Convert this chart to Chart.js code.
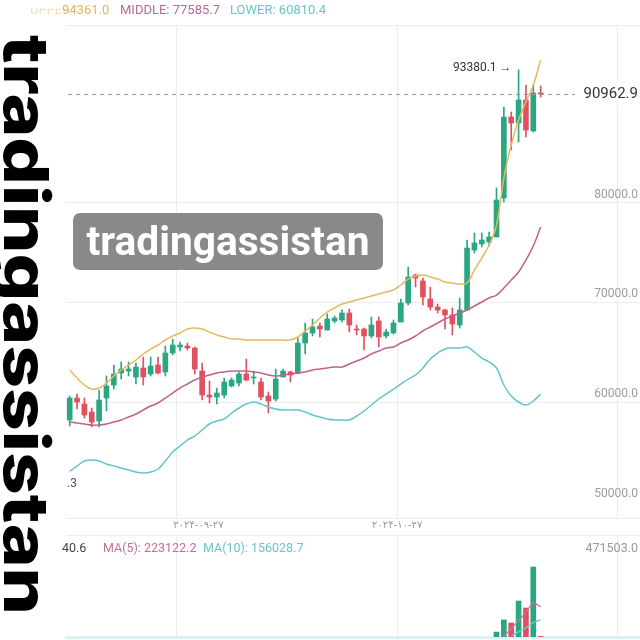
<!DOCTYPE html>
<html>
<head>
<meta charset="utf-8">
<script src="https://cdn.jsdelivr.net/npm/chart.js@4.4.1/dist/chart.umd.min.js"></script>
<style>
html, body { margin: 0; padding: 0; background: #fff; }
#wrap { position: relative; width: 640px; height: 640px; overflow: hidden; background: #fff; font-family: Roboto, sans-serif; }
#main { position: absolute; left: 0; top: 0; }
#vol { position: absolute; left: 0; top: 535px; }
.t { position: absolute; font-size: 13px; line-height: 16px; white-space: nowrap; }
.v { font-size: 12.5px; }
#wm { position: absolute; left: 57px; top: 35px; font: 800 62px Inter, sans-serif; line-height: 62px; color: #000; white-space: nowrap; transform-origin: 0 0; }
#tag { position: absolute; left: 73px; top: 213px; width: 310px; height: 57px; border-radius: 7px; background: rgba(128,128,128,.93); color: #fff; font: 700 31px Roboto, sans-serif; line-height: 57px; text-align: center; }
</style>
</head>
<body>
<div id="wrap">
  <canvas id="main" width="640" height="535"></canvas>
  <canvas id="vol" width="640" height="105"></canvas>

  <span class="t" style="left:30px;top:2px;color:#e3b45a;opacity:.45;clip-path:inset(40% 0 0 0)">UPPER:</span>
  <span class="t" style="left:62px;top:2px;color:#e3b45a">94361.0</span>
  <span class="t" style="left:120px;top:2px;color:#b66a98">MIDDLE: 77585.7</span>
  <span class="t" style="left:230px;top:2px;color:#6cc4cc">LOWER: 60810.4</span>

  <span class="t v" style="left:62px;top:540px;color:#444">40.6</span>
  <span class="t v" style="left:103px;top:540px;color:#c0709c">MA(5): 223122.2</span>
  <span class="t v" style="left:203px;top:540px;color:#6cc4cc">MA(10): 156028.7</span>
  <span class="t v" style="right:2px;top:540px;color:#999">471503.0</span>

  <div id="tag">tradingassistan</div>
  <div id="wm">tradingassistan</div>
</div>
<script>
// Daily candles, one per slot (slot 0 .. 64)
const opens = [
  58190, 60401, 59798, 58994, 58090, 60400, 61707, 62914, 63114, 62512,
  63416, 62813, 63718, 63014, 64924, 65526, 65627, 65426, 63114, 60702,
  60501, 60702, 61607, 61910, 62812, 62412, 62011, 60602, 60300, 62512,
  63014, 62914, 65929, 66936, 67637, 67236, 68140, 68241, 68946, 67336,
  67336, 66637, 68140, 66637, 66936, 68039, 69949, 72763, 72160, 70350,
  69547, 69245, 68743, 67737, 69245, 75275, 75878, 76079, 76582, 80501,
  88642, 88039, 90350, 87235, 91060];
const closes = [
  60401, 59999, 58692, 57989, 60200, 61607, 62812, 63315, 63315, 63516,
  62512, 63617, 62914, 64924, 65728, 65728, 65426, 63315, 60702, 60501,
  60902, 62011, 62210, 62812, 62210, 62512, 60501, 60099, 62310, 63114,
  62712, 65929, 66936, 67537, 67336, 68342, 68441, 68946, 67737, 67235,
  66637, 67737, 66537, 67036, 67937, 69949, 72563, 72462, 70552, 69547,
  69245, 68743, 67838, 69245, 75476, 75979, 76280, 76582, 80300, 88642,
  88039, 90350, 87335, 91060, 90962.9];
const highs = [
  60602, 60803, 60401, 59396, 61205, 62612, 63717, 64019, 64019, 63919,
  64522, 64522, 64522, 65627, 66330, 66029, 65928, 65526, 63919, 62110,
  61407, 62412, 62412, 63014, 64320, 63114, 62412, 61004, 63315, 63315,
  63114, 66431, 67939, 68342, 67939, 68843, 68642, 69245, 69346, 67737,
  67436, 68543, 68543, 67336, 68241, 70350, 73564, 72863, 72462, 71557,
  69850, 69346, 69446, 70451, 76280, 76984, 76984, 77084, 81506, 89647,
  89144, 93380.1, 91858, 91858, 91760];
const lows = [
  57587, 59296, 58391, 57488, 57488, 59096, 61307, 62310, 62612, 61806,
  61707, 62612, 62813, 62612, 64723, 65124, 65225, 62813, 60200, 59899,
  59798, 60401, 61507, 61607, 62110, 61807, 60200, 58892, 60099, 62512,
  62010, 62813, 64823, 66637, 66536, 67236, 67939, 68039, 67034, 66737,
  65225, 66436, 65526, 66436, 66836, 68039, 69747, 71557, 69747, 69245,
  68944, 67336, 66737, 67436, 69245, 74974, 75576, 75677, 76783, 80099,
  85325, 86129, 86631, 87134, 90650];

// Bollinger bands
const upperBand = [
  63215, 62411, 61708, 61306, 61406, 61908, 62612, 63215, 63718, 64220,
  64823, 65325, 65728, 66230, 66632, 66934, 67335, 67436, 67335, 67034,
  66733, 66532, 66330, 66330, 66230, 66230, 66230, 66230, 66230, 66230,
  66230, 66532, 67136, 67738, 68441, 69044, 69446, 69848, 70049, 70250,
  70451, 70652, 70853, 71054, 71255, 71758, 72360, 72662, 72763, 72562,
  72360, 72059, 71959, 71858, 71959, 73265, 74471, 75778, 77788, 82511,
  85828, 88340, 90149, 91858, 94361.0];
const middleBand = [
  57989, 57889, 57788, 57688, 57688, 57788, 57989, 58190, 58492, 58793,
  59195, 59597, 59899, 60401, 60904, 61406, 61808, 62210, 62512, 62713,
  62914, 63014, 63115, 63115, 63115, 63014, 62914, 62713, 62612, 62713,
  62813, 62914, 63014, 63215, 63316, 63416, 63517, 63517, 63818, 64120,
  64421, 64823, 65125, 65426, 65527, 65929, 66230, 66632, 67136, 67537,
  67939, 68341, 68642, 68944, 69245, 69647, 70049, 70451, 70753, 71456,
  72260, 73064, 74270, 75677, 77585.7];
const lowerBand = [
  53065, 53567, 54070, 54170, 54070, 53768, 53567, 53366, 53165, 52964,
  52864, 52964, 53265, 54070, 54974, 55577, 56180, 56582, 57185, 57788,
  58090, 58291, 58894, 59396, 59798, 59999, 59798, 59497, 59296, 59195,
  59195, 59195, 58994, 58692, 58492, 58291, 58190, 58190, 58190, 58592,
  59095, 59698, 60300, 60803, 61306, 61808, 62310, 62713, 63416, 64320,
  64923, 65325, 65426, 65426, 65527, 65024, 64421, 64019, 63416, 61708,
  60603, 59999, 59698, 60099, 60810.4];

// Volume panel (only the last bars are visible)
const volStart = 58;
const volumes = [24000, 83000, 68000, 175000, 141000, 340000, 3000];
const ma5Start = 59;
const ma5 = [5000, 40000, 80000, 120000, 165000, 146000];
const ma10Start = 60;
const ma10 = [5000, 25000, 45000, 70000, 83000];

// Axes
const slotCount = 78;
const priceMin = 48342, priceMax = 97889;
const priceGrid = [60000, 70000, 80000];
const priceAxisLabels = [80000, 70000, 60000, 50000];
const volMax = 495800;
const monthGridSlots = [15, 45, 75];
const dateLabels = ['۲۰۲۴-۰۹-۲۷', '۲۰۲۴-۱۰-۲۷'];
const dateSlots = [17.5, 44.5];
const lastPrice = 90962.9;
const maxHigh = 93380.1, maxHighSlot = 61;

const UP = '#2ba683', DOWN = '#e2505f';
const GRID = '#ededed';

const slots = Array.from({length: slotCount}, (_, i) => i);
const candleColor = i => closes[i] >= opens[i] ? UP : DOWN;
const candleColors = opens.map((_, i) => candleColor(i));
const fromStart = (arr, start) => slots.map(i => i >= start && i - start < arr.length ? arr[i - start] : null);

const monthGrid = ctx => monthGridSlots.includes(ctx.index) ? GRID : 'rgba(0,0,0,0)';

const priceOverlay = {
  id: 'priceOverlay',
  afterDatasetsDraw(chart) {
    const {ctx, chartArea, scales: {x, y}} = chart;
    ctx.save();
    // last price line + tag
    const yp = y.getPixelForValue(lastPrice);
    ctx.strokeStyle = '#9a9a9a';
    ctx.lineWidth = 1;
    ctx.setLineDash([4, 4]);
    ctx.beginPath();
    ctx.moveTo(chartArea.left + 2, Math.round(yp) + 0.5);
    ctx.lineTo(575, Math.round(yp) + 0.5);
    ctx.stroke();
    ctx.setLineDash([]);
    ctx.fillStyle = '#fff';
    ctx.fillRect(576, yp - 11, 64, 22);
    ctx.font = '15px Roboto';
    ctx.fillStyle = '#333';
    ctx.textAlign = 'right';
    ctx.textBaseline = 'middle';
    ctx.fillText(lastPrice.toFixed(1), 638, yp);

    // right axis values, sitting above their grid line
    ctx.font = '12px Roboto';
    ctx.fillStyle = '#9c9c9c';
    priceAxisLabels.forEach(v => ctx.fillText(v.toFixed(1), 638, y.getPixelForValue(v) - 8));

    // highest price marker
    ctx.fillStyle = '#333';
    ctx.fillText(maxHigh.toFixed(1) + ' →', x.getPixelForValue(maxHighSlot) - 7, y.getPixelForValue(maxHigh) - 2);

    // leftover axis text on the left
    ctx.textAlign = 'left';
    ctx.fillStyle = '#555';
    ctx.fillText('.3', 67, 484);

    // dates
    ctx.font = '10px "DejaVu Sans"';
    ctx.fillStyle = '#999';
    ctx.textAlign = 'center';
    dateLabels.forEach((d, k) => ctx.fillText(d, x.getPixelForValue(dateSlots[k]), chartArea.bottom + 7));
    ctx.restore();
  }
};

new Chart(document.getElementById('main'), {
  type: 'bar',
  data: {
    labels: slots,
    datasets: [
      {type: 'line', data: upperBand, borderColor: '#e9b75f', borderWidth: 1.5, pointRadius: 0, tension: 0.4, order: 1},
      {type: 'line', data: middleBand, borderColor: '#c0628e', borderWidth: 1.5, pointRadius: 0, tension: 0.4, order: 1},
      {type: 'line', data: lowerBand, borderColor: '#5fc5cf', borderWidth: 1.5, pointRadius: 0, tension: 0.4, order: 1},
      {data: opens.map((o, i) => [o, closes[i]]), backgroundColor: candleColors, barThickness: 5, minBarLength: 1, grouped: false, order: 2},
      {data: lows.map((l, i) => [l, highs[i]]), backgroundColor: candleColors, barThickness: 1, grouped: false, order: 3}
    ]
  },
  options: {
    responsive: false, animation: false, devicePixelRatio: 1, events: [],
    layout: {padding: {left: 66, right: 0, top: 25, bottom: 17}},
    plugins: {legend: {display: false}, tooltip: {enabled: false}},
    scales: {
      x: {offset: true, ticks: {display: false}, border: {display: false},
          grid: {offset: true, drawTicks: false, color: monthGrid}},
      y: {position: 'right', min: priceMin, max: priceMax, ticks: {display: false}, border: {display: false},
          grid: {drawTicks: false, color: GRID},
          afterBuildTicks: s => { s.ticks = [priceMin, ...priceGrid, priceMax].map(v => ({value: v})); }}
    }
  },
  plugins: [priceOverlay]
});

const volColors = volumes.map((_, k) => candleColor(volStart + k));
new Chart(document.getElementById('vol'), {
  type: 'bar',
  data: {
    labels: slots,
    datasets: [
      {type: 'line', data: fromStart(ma5, ma5Start), borderColor: '#c8739c', borderWidth: 1.3, pointRadius: 0, tension: 0.3, order: 1},
      {type: 'line', data: fromStart(ma10, ma10Start), borderColor: '#6cc8d0', borderWidth: 1.3, pointRadius: 0, tension: 0.3, order: 1},
      {data: fromStart(volumes, volStart), backgroundColor: fromStart(volColors, volStart), barThickness: 5, order: 2}
    ]
  },
  options: {
    responsive: false, animation: false, devicePixelRatio: 1, events: [],
    layout: {padding: {left: 66, right: 0, top: 0, bottom: 3}},
    plugins: {legend: {display: false}, tooltip: {enabled: false}},
    scales: {
      x: {offset: true, ticks: {display: false}, border: {display: true, color: '#d9f2f4', width: 3},
          grid: {offset: true, drawTicks: false, color: monthGrid}},
      y: {position: 'right', min: 0, max: volMax, ticks: {display: false}, border: {display: false},
          grid: {drawTicks: false, color: GRID},
          afterBuildTicks: s => { s.ticks = [{value: volMax}]; }}
    }
  }
});

// vertical watermark, stretched to its length in the picture
const mctx = document.createElement('canvas').getContext('2d');
const wm = document.getElementById('wm');
mctx.font = '800 62px Inter';
const wmWidth = mctx.measureText(wm.textContent).width;
wm.style.transform = `rotate(90deg) scaleX(${580 / wmWidth})`;

// label in the grey box fills about 283px
const tag = document.getElementById('tag');
mctx.font = '700 31px Roboto';
const tagWidth = mctx.measureText(tag.textContent).width;
tag.style.fontSize = (31 * 283 / tagWidth).toFixed(1) + 'px';
</script>
</body>
</html>
